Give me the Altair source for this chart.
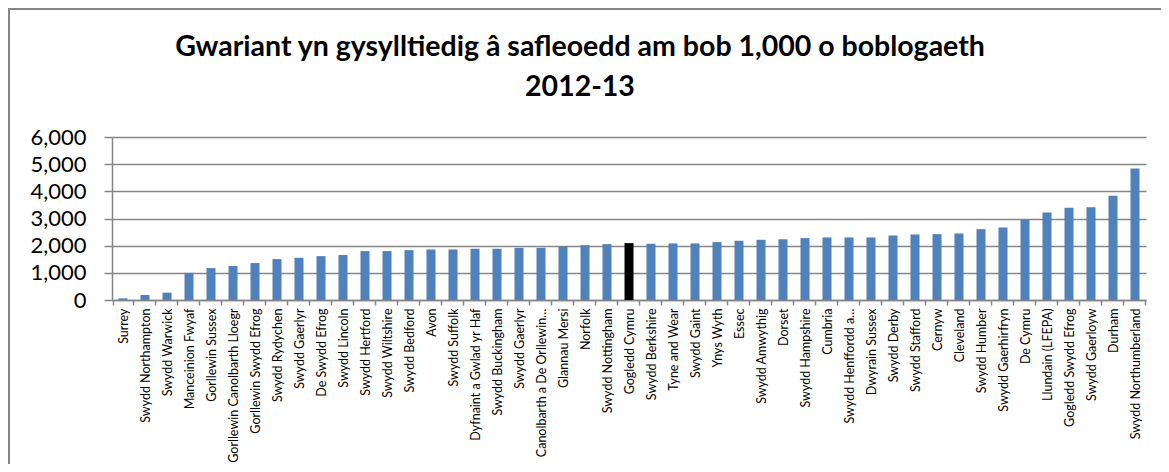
import altair as alt
import pandas as pd

areas = [
    "Surrey", "Swydd Northampton", "Swydd Warwick", "Manceinion Fwyaf",
    "Gorllewin Sussex", "Gorllewin Canolbarth Lloegr", "Gorllewin Swydd Efrog",
    "Swydd Rydychen", "Swydd Gaerlyr", "De Swydd Efrog", "Swydd Lincoln",
    "Swydd Hertford", "Swydd Wiltshire", "Swydd Bedford", "Avon", "Swydd Suffolk",
    "Dyfnaint a Gwlad yr Haf", "Swydd Buckingham", "Swydd Gaerlyr ",
    "Canolbarth a De Orllewin…", "Glannau Mersi", "Norfolk", "Swydd Nottingham",
    "Gogledd Cymru", "Swydd Berkshire", "Tyne and Wear", "Swydd Gaint",
    "Ynys Wyth", "Essec", "Swydd Amwythig", "Dorset", "Swydd Hampshire",
    "Cumbria", "Swydd Henffordd a…", "Dwyrain Sussex", "Swydd Derby",
    "Swydd Stafford", "Cernyw", "Cleveland", "Swydd Humber", "Swydd Gaerhirfryn",
    "De Cymru", "Llundain (LFEPA)", "Gogledd Swydd Efrog", "Swydd Gaerloyw",
    "Durham", "Swydd Northumberland",
]
spend = [
    60, 185, 270, 1000, 1175, 1250, 1360, 1505, 1555, 1615, 1655,
    1800, 1800, 1835, 1860, 1860, 1886, 1886, 1920, 1922, 1959, 2020, 2057,
    2094, 2069, 2082, 2082, 2131, 2180, 2216, 2235, 2278, 2302, 2302, 2302,
    2375, 2412, 2424, 2449, 2608, 2669, 2951, 3220, 3392, 3416, 3833, 4837,
]
highlight = ["Gogledd Cymru"]
y_ticks = [0, 1000, 2000, 3000, 4000, 5000, 6000]
title_line1 = "Gwariant yn gysylltiedig â safleoedd am bob 1,000 o boblogaeth"
title_line2 = "2012-13"

df = pd.DataFrame({"area": areas, "spend": spend})
df["hl"] = df["area"].isin(highlight)

W, H = 1034, 163

bars = alt.Chart(df).mark_bar(size=9).encode(
    x=alt.X("area:N", sort=None, title=None,
            axis=alt.Axis(labelAngle=-90, labelFontSize=12.5, labelFont="Lato",
                          labelColor="#000000", tickBand="extent", tickSize=5,
                          tickColor="#868686", domainColor="#868686", domainWidth=1.5,
                          tickWidth=1.5, labelPadding=3, labelLimit=300)),
    y=alt.Y("spend:Q", title=None, scale=alt.Scale(domain=[0, 6000], nice=False),
            axis=alt.Axis(values=y_ticks, format=",.0f", labelFontSize=22, labelFont="Lato",
                          labelColor="#000000", tickSize=8, tickColor="#868686",
                          tickWidth=1.5, domainColor="#868686", domainWidth=1.5,
                          gridColor="#868686", gridWidth=1.5, labelPadding=18)),
    color=alt.condition(alt.datum.hl, alt.value("#000000"), alt.value("#4F81BD")),
)

border = alt.Chart(df).mark_rect(fill=None, stroke="#868686", strokeWidth=1.5).encode(
    x=alt.value(-103.25), x2=alt.value(1400), y=alt.value(-128.25), y2=alt.value(600)
)

t1 = alt.Chart(pd.DataFrame({"t": [title_line1]})).mark_text(
    font="Lato", fontSize=28.5, fontWeight="bold", color="#000000",
    align="center", baseline="middle"
).encode(text="t:N", x=alt.value(468), y=alt.value(-90))

t2 = alt.Chart(pd.DataFrame({"t": [title_line2]})).mark_text(
    font="Lato", fontSize=28.5, fontWeight="bold", color="#000000",
    align="center", baseline="middle"
).encode(text="t:N", x=alt.value(468), y=alt.value(-50))

chart = alt.layer(border, bars, t1, t2).properties(
    width=W, height=H,
    padding={"left": 104, "top": 129, "right": 15, "bottom": 164},
    autosize=alt.AutoSizeParams(type="none"),
).configure_view(stroke=None).configure_axis(grid=False).configure_axisY(grid=True)

chart.save("out.html", embed_options={"renderer": "svg", "actions": False})
